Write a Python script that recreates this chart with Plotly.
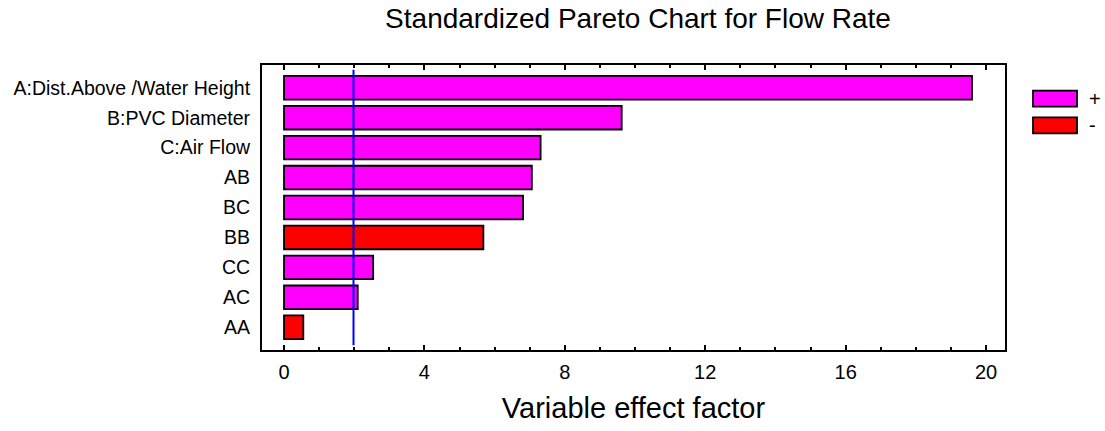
import plotly.graph_objects as go

# Effects of the fitted model, listed from largest to smallest
terms = ["A:Dist.Above /Water Height", "B:PVC Diameter", "C:Air Flow",
         "AB", "BC", "BB", "CC", "AC", "AA"]
effects = [19.6, 9.62, 7.31, 7.06, 6.81, 5.68, 2.54, 2.1, 0.55]
signs = ["+", "+", "+", "+", "+", "-", "+", "+", "-"]

# Critical value of the standardized effect
critical_t = 1.98

x_ticks = [0, 4, 8, 12, 16, 20]

sign_colors = {"+": "#ff00ff", "-": "#ff0000"}
FONT = "Liberation Sans, Arial, sans-serif"

fig = go.Figure()

fig.add_trace(go.Bar(
    x=effects,
    y=terms,
    orientation="h",
    width=0.79,
    marker=dict(color=[sign_colors[s] for s in signs],
                line=dict(color="black", width=1.8)),
    showlegend=False,
    hoverinfo="x+y",
))

# Reference line at the critical value
fig.add_shape(type="line", xref="x", yref="y",
              x0=critical_t, x1=critical_t, y0=-0.6, y1=8.6,
              line=dict(color="#0000ff", width=2))

# Sign legend drawn at the right of the plot
legend_top = 0.91
for i, (name, color) in enumerate(sign_colors.items()):
    y_top = legend_top - i * 0.094
    fig.add_shape(type="rect", xref="paper", yref="paper",
                  x0=1.0377, x1=1.0969, y0=y_top - 0.056, y1=y_top,
                  fillcolor=color, line=dict(color="black", width=1.8))
    fig.add_annotation(text=name, xref="paper", yref="paper",
                       x=1.11, y=y_top - 0.028, xanchor="left", yanchor="middle",
                       showarrow=False, font=dict(family=FONT, size=20, color="black"))

fig.update_layout(
    width=1105, height=431,
    margin=dict(l=262, r=100, t=65, b=78),
    paper_bgcolor="white",
    plot_bgcolor="white",
    font=dict(family=FONT, color="black"),
    title=dict(text="Standardized Pareto Chart for Flow Rate",
               x=0.5774, xanchor="center", xref="container",
               y=0.957, yanchor="middle", yref="container",
               font=dict(family=FONT, size=28, color="black")),
    bargap=0.2,
)

fig.update_xaxes(
    range=[-0.627, 20.54],
    tickvals=x_ticks,
    ticktext=[str(v) for v in x_ticks],
    ticks="inside", ticklen=5, tickwidth=2, tickcolor="black",
    minor=dict(dtick=1, tick0=0, ticks="inside", ticklen=3, tickwidth=1.5, tickcolor="black"),
    showline=True, linecolor="black", linewidth=2, mirror="allticks",
    showgrid=False, zeroline=False,
    tickfont=dict(family=FONT, size=20, color="black"),
    ticklabelstandoff=3,
    title=dict(text="Variable effect factor", standoff=16,
               font=dict(family=FONT, size=29, color="black")),
)

fig.update_yaxes(
    categoryorder="array", categoryarray=terms,
    range=[8.76, -0.76],
    ticks="", showline=True, linecolor="black", linewidth=2, mirror=True,
    showgrid=False, zeroline=False,
    tickfont=dict(family=FONT, size=19.5, color="black"),
    ticklabelstandoff=6,
)

fig.write_html("out.html")
